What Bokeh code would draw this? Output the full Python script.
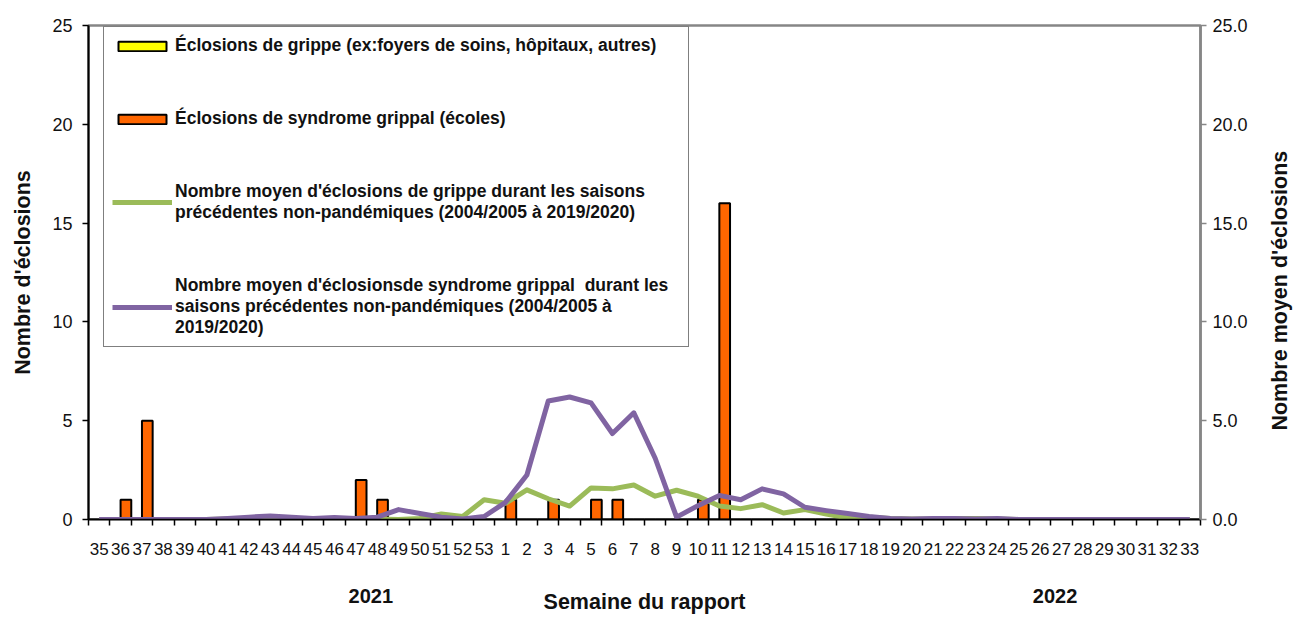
import math
import numpy as np
from bokeh.plotting import figure
from bokeh.models import (Range1d, LinearAxis, FixedTicker, Legend, LegendItem,
                          ColumnDataSource, PrintfTickFormatter)
from bokeh.embed import file_html
from bokeh.resources import INLINE

# ---------------- data ----------------
weeks = [str(w) for w in list(range(35, 54)) + list(range(1, 34))]

flu_outbreaks = [0] * 52  # Éclosions de grippe (none reported)

ili_outbreaks = [0, 1, 5, 0, 0, 0, 0, 0, 0, 0, 0, 0, 2, 1, 0, 0, 0, 0, 0,   # 35..53
                 1, 0, 1, 0, 1, 1, 0, 0, 0, 1, 16, 0, 0, 0, 0, 0, 0, 0,     # 1..17
                 0, 0, 0, 0, 0, 0, 0, 0, 0, 0, 0, 0, 0, 0, 0, 0]            # 18..33

flu_avg = [0, 0, 0, 0, 0, 0, 0.02, 0.03, 0.05, 0.02, 0.02, 0.03, 0.02, 0.02, 0.0,
           0.05, 0.28, 0.15, 1.0,                                              # 35..53
           0.82, 1.5, 1.05, 0.68, 1.6, 1.55, 1.75, 1.18, 1.48, 1.18, 0.68, 0.55,
           0.75, 0.33, 0.5, 0.28, 0.08,                                        # 1..17
           0.12, 0.05, 0.02, 0.02, 0.05, 0.05, 0.02, 0, 0, 0, 0, 0, 0, 0, 0, 0]  # 18..33

ili_avg = [0, 0, 0, 0, 0, 0, 0.05, 0.12, 0.18, 0.12, 0.05, 0.1, 0.05, 0.12, 0.5,
           0.3, 0.12, 0.02, 0.15,                                              # 35..53
           0.87, 2.25, 6.0, 6.2, 5.9, 4.35, 5.4, 3.1, 0.12, 0.7, 1.22, 1.0,
           1.55, 1.3, 0.62, 0.45, 0.3,                                         # 1..17
           0.15, 0.05, 0.02, 0.05, 0.05, 0.02, 0.05, 0, 0, 0, 0, 0, 0, 0, 0, 0]  # 18..33

left_ticks = [0, 5, 10, 15, 20, 25]
right_ticks = [0, 5, 10, 15, 20, 25]
years = ["2021", "2022"]
year_weeks = ["48", "27"]
right_title = "Nombre moyen d'éclosions"

series_names = [
    "Éclosions de grippe (ex:foyers de soins, hôpitaux, autres)",
    "Éclosions de syndrome grippal (écoles)",
    "Nombre moyen d'éclosions de grippe durant les saisons\nprécédentes non-pandémiques (2004/2005 à 2019/2020)",
    "Nombre moyen d'éclosionsde syndrome grippal  durant les\nsaisons précédentes non-pandémiques (2004/2005 à\n2019/2020)",
]

# ---------------- styling ----------------
FONT = "Liberation Sans"
GREY = "#868686"
TXT = "#111111"
TITLE_SIZE = "21.5px"

n = len(weeks)
idx = np.arange(n)
centers = idx + 0.5

src = ColumnDataSource(dict(
    center=centers,
    flu_x=centers - 0.25,
    ili_x=centers + 0.25,
    flu=flu_outbreaks,
    ili=ili_outbreaks,
    flu_avg=flu_avg,
    ili_avg=ili_avg,
))

p = figure(frame_width=1112, frame_height=494,
           x_range=Range1d(0, n), y_range=Range1d(left_ticks[0], left_ticks[-1]),
           output_backend="svg", toolbar_location=None,
           min_border_left=88, min_border_top=25, min_border_right=90,
           min_border_bottom=5)
p.extra_y_ranges = {"right": Range1d(right_ticks[0], right_ticks[-1])}

p.grid.visible = False
p.outline_line_color = GREY
p.outline_line_width = 2.5
p.background_fill_color = "white"
p.border_fill_color = "white"

# x axis: week labels at category centers, tick marks at category boundaries
xa = p.xaxis[0]
xa.ticker = FixedTicker(ticks=list(centers), minor_ticks=list(idx) + [n])
xa.major_label_overrides = {float(c): w for c, w in zip(centers, weeks)}
xa.major_tick_line_color = None
xa.major_tick_out = 0
xa.minor_tick_in = 0
xa.minor_tick_out = 6
xa.minor_tick_line_color = "black"
xa.minor_tick_line_width = 1.5
xa.axis_line_color = "black"
xa.axis_line_width = 1.5
xa.major_label_text_font = FONT
xa.major_label_text_font_size = "17px"
xa.major_label_text_color = TXT
xa.major_label_standoff = 17

# second (year) axis below, carrying the axis title
year_pos = [weeks.index(w) + 0.2 for w in year_weeks]
ya2 = LinearAxis(ticker=FixedTicker(ticks=year_pos, minor_ticks=[]))
ya2.major_label_overrides = {float(x): y for x, y in zip(year_pos, years)}
ya2.axis_line_color = None
ya2.major_tick_line_color = None
ya2.minor_tick_line_color = None
ya2.major_tick_out = 0
ya2.major_label_text_font = FONT
ya2.major_label_text_font_style = "bold"
ya2.major_label_text_font_size = "20px"
ya2.major_label_text_color = TXT
ya2.major_label_standoff = 31
ya2.axis_label = "Semaine du rapport"
ya2.axis_label_text_font = FONT
ya2.axis_label_text_font_size = TITLE_SIZE
ya2.axis_label_text_font_style = "bold"
ya2.axis_label_text_color = TXT
ya2.axis_label_standoff = -16
p.add_layout(ya2, "below")

ya = p.yaxis[0]
ya.ticker = FixedTicker(ticks=left_ticks)
ya.minor_tick_line_color = None
ya.major_tick_in = 0
ya.major_tick_out = 6
ya.major_tick_line_width = 1.5
ya.axis_line_width = 2
ya.major_label_text_font = FONT
ya.major_label_text_font_size = "18px"
ya.major_label_text_color = TXT
ya.major_label_standoff = 10
ya.axis_label = "Nombre d'éclosions"
ya.axis_label_text_font = FONT
ya.axis_label_text_font_size = TITLE_SIZE
ya.axis_label_text_font_style = "bold"
ya.axis_label_text_color = TXT
ya.axis_label_standoff = 14

# right axis: ticks and labels
ra = LinearAxis(y_range_name="right", ticker=FixedTicker(ticks=right_ticks),
                formatter=PrintfTickFormatter(format="%.1f"))
ra.minor_tick_line_color = None
ra.major_tick_in = 0
ra.major_tick_out = 6
ra.axis_line_color = GREY
ra.axis_line_width = 2.5
ra.major_tick_line_color = GREY
ra.major_tick_line_width = 1.5
ra.major_label_text_font = FONT
ra.major_label_text_font_size = "18px"
ra.major_label_text_color = TXT
ra.major_label_standoff = 6
p.add_layout(ra, "right")

# right axis title, reading bottom-to-top like the left one
title_anchor = 4.5
rt = LinearAxis(y_range_name="right",
                ticker=FixedTicker(ticks=[title_anchor], minor_ticks=[]))
rt.major_label_overrides = {title_anchor: right_title}
rt.major_label_orientation = math.pi / 2
rt.axis_line_color = None
rt.major_tick_line_color = None
rt.minor_tick_line_color = None
rt.major_tick_out = 0
rt.major_label_text_font = FONT
rt.major_label_text_font_size = TITLE_SIZE
rt.major_label_text_font_style = "bold"
rt.major_label_text_color = TXT
rt.major_label_standoff = 30
p.add_layout(rt, "right")

# ---------------- marks ----------------
r_flu = p.vbar(x="flu_x", top="flu", width=0.5, bottom=0, source=src,
               fill_color="#FFFF00", line_color="black", line_width=2)
r_ili = p.vbar(x="ili_x", top="ili", width=0.5, bottom=0, source=src,
               fill_color="#FF6600", line_color="black", line_width=2)
r_flu_avg = p.line(x="center", y="flu_avg", source=src, y_range_name="right",
                   line_color="#9BBB59", line_width=5, line_join="round")
r_ili_avg = p.line(x="center", y="ili_avg", source=src, y_range_name="right",
                   line_color="#8064A2", line_width=5, line_join="round")

legend = Legend(items=[LegendItem(label=series_names[0], renderers=[r_flu]),
                       LegendItem(label=series_names[1], renderers=[r_ili]),
                       LegendItem(label=series_names[2], renderers=[r_flu_avg]),
                       LegendItem(label=series_names[3], renderers=[r_ili_avg])],
                location=(15, 172))
legend.border_line_color = "black"
legend.border_line_width = 1
legend.background_fill_alpha = 1
legend.label_text_font = FONT
legend.label_text_font_size = "17.5px"
legend.label_text_font_style = "bold"
legend.label_text_color = TXT
legend.label_text_line_height = 1.3
legend.label_width = 505
legend.glyph_width = 60
legend.glyph_height = 12
legend.label_standoff = 3
legend.padding = 8
legend.spacing = 52
legend.margin = 0
p.add_layout(legend)

open("out.html", "w").write(file_html(p, INLINE))
